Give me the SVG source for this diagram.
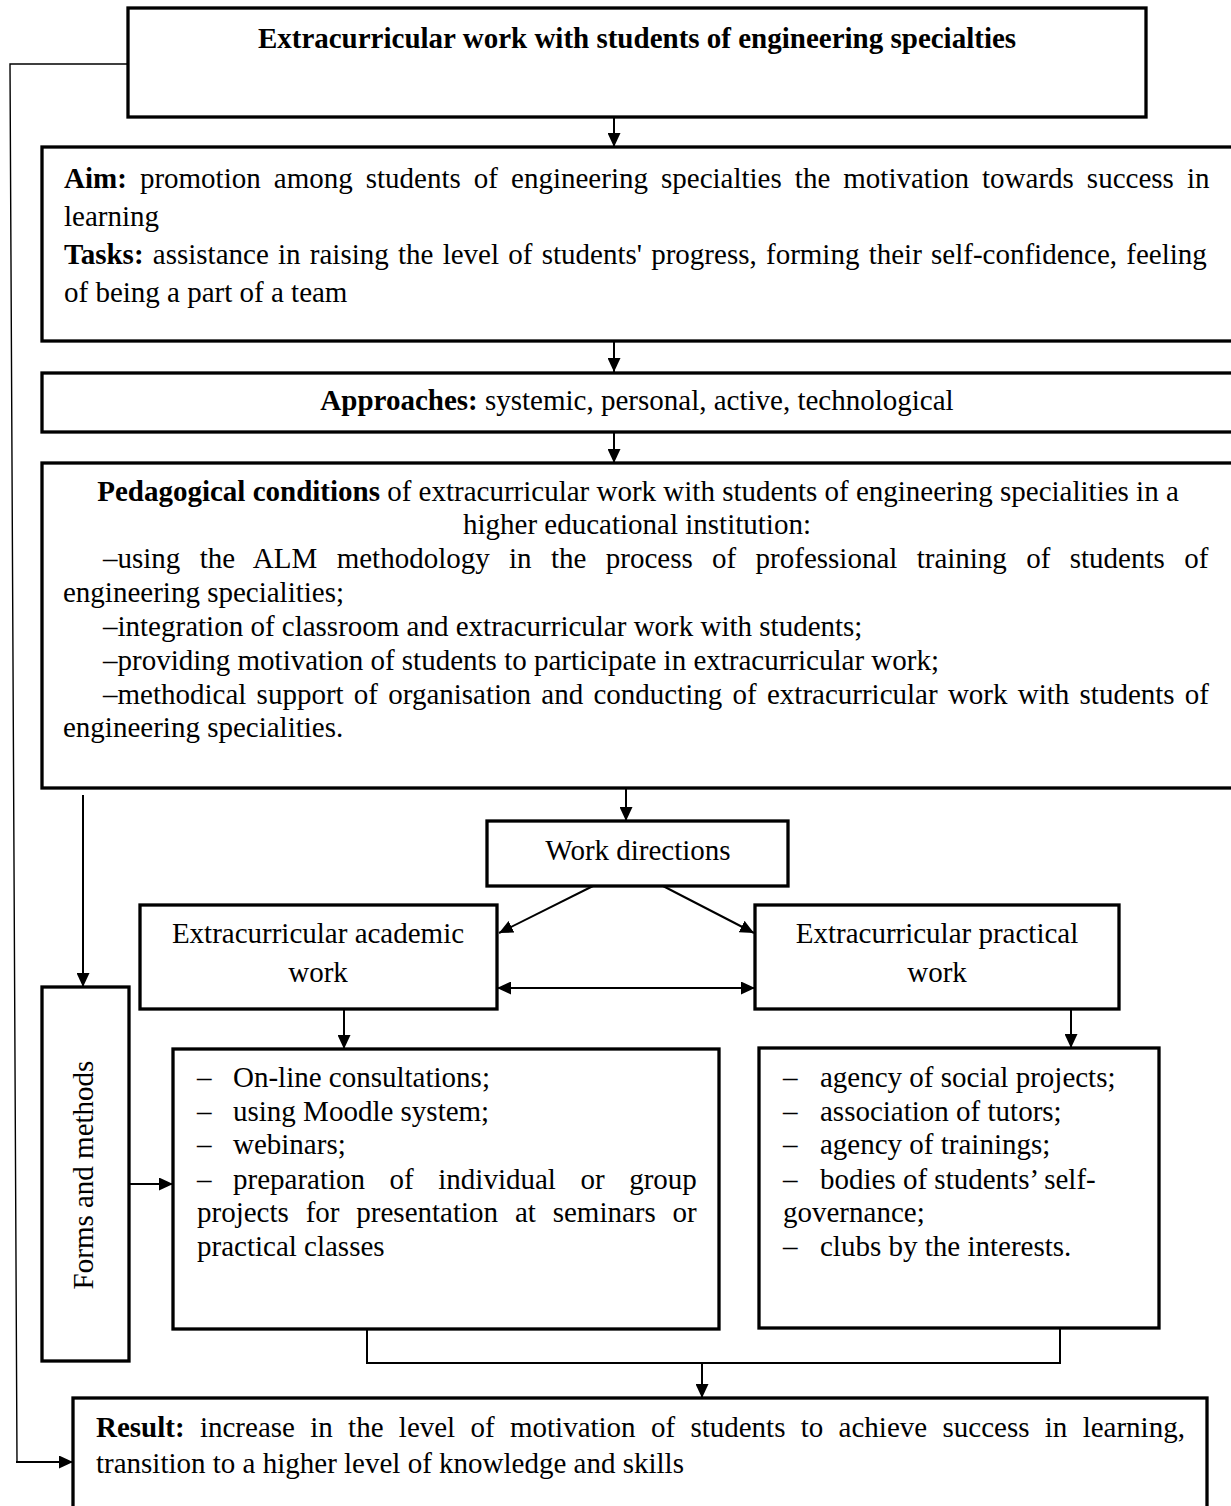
<svg xmlns="http://www.w3.org/2000/svg" width="1231" height="1506" viewBox="0 0 1231 1506">
<defs>
<marker id="ah" markerUnits="userSpaceOnUse" markerWidth="14" markerHeight="13" refX="14" refY="6.5" orient="auto-start-reverse">
<path d="M0,0 L14,6.5 L0,13 z" fill="#000"/>
</marker>
</defs>
<style>
text{font-family:"Liberation Serif","Times New Roman",serif;font-size:29px;fill:#000}
.b{font-weight:bold}
.c{text-anchor:middle}
.box{fill:#fff;stroke:#000;stroke-width:3.3}
.ln{fill:none;stroke:#000;stroke-width:2}
.arr{fill:none;stroke:#000;stroke-width:2;marker-end:url(#ah)}
</style>
<rect width="1231" height="1506" fill="#fff"/>

<g id="connectors">
<path d="M128,64 L10,64 L17,1462" fill="none" stroke="#000" stroke-width="1.4"/>
<line x1="16" y1="1462" x2="73" y2="1462" class="arr" stroke-width="2.5"/>
<line x1="614" y1="117" x2="614" y2="147" class="arr"/>
<line x1="614" y1="341" x2="614" y2="372" class="arr"/>
<line x1="614" y1="432" x2="614" y2="463" class="arr"/>
<line x1="626" y1="788" x2="626" y2="821" class="arr"/>
<line x1="83" y1="795" x2="83" y2="987" class="arr"/>
<line x1="593" y1="886" x2="499" y2="933" class="arr"/>
<line x1="663" y1="886" x2="754" y2="933" class="arr"/>
<line x1="497" y1="988" x2="755" y2="988" class="arr" style="marker-start:url(#ah)"/>
<line x1="344" y1="1009" x2="344" y2="1049" class="arr"/>
<line x1="1071" y1="1009" x2="1071" y2="1048" class="arr"/>
<line x1="129" y1="1184" x2="173" y2="1184" class="arr"/>
<path d="M367,1329 L367,1363 L1060,1363 L1060,1328" class="ln" stroke-width="2.5"/>
<line x1="702" y1="1363" x2="702" y2="1398" class="arr"/>
</g>

<g id="title">
<rect x="128" y="8" width="1018" height="109" class="box" stroke-width="3.6"/>
<text x="637" y="48" class="b c">Extracurricular work with students of engineering specialties</text>
</g>

<g id="aim">
<rect x="42" y="147" width="1200" height="194" class="box"/>
<text x="64" y="188" style="word-spacing:5.8px"><tspan class="b">Aim:</tspan> promotion among students of engineering specialties the motivation towards success in</text>
<text x="64" y="226">learning</text>
<text x="64" y="264" style="word-spacing:2px"><tspan class="b">Tasks:</tspan> assistance in raising the level of students' progress, forming their self-confidence, feeling</text>
<text x="64" y="302">of being a part of a team</text>
</g>

<g id="approaches">
<rect x="42" y="373" width="1200" height="59" class="box"/>
<text x="637" y="410" class="c"><tspan class="b">Approaches:</tspan> systemic, personal, active, technological</text>
</g>

<g id="conditions">
<rect x="42" y="463" width="1200" height="325" class="box"/>
<text x="638" y="501" class="c"><tspan class="b">Pedagogical conditions</tspan> of extracurricular work with students of engineering specialities in a</text>
<text x="637" y="534" class="c">higher educational institution:</text>
<text x="103" y="568" style="word-spacing:12.1px">–using the ALM methodology in the process of professional training of students of</text>
<text x="63" y="602">engineering specialities;</text>
<text x="103" y="636">–integration of classroom and extracurricular work with students;</text>
<text x="103" y="670">–providing motivation of students to participate in extracurricular work;</text>
<text x="103" y="704" style="word-spacing:3px">–methodical support of organisation and conducting of extracurricular work with students of</text>
<text x="63" y="737">engineering specialities.</text>
</g>

<g id="directions">
<rect x="487" y="821" width="301" height="65" class="box" stroke-width="3"/>
<text x="638" y="860" class="c">Work directions</text>
</g>

<g id="academic">
<rect x="140" y="905" width="357" height="104" class="box"/>
<text x="318" y="943" class="c">Extracurricular academic</text>
<text x="318" y="982" class="c">work</text>
</g>

<g id="practical">
<rect x="755" y="905" width="364" height="104" class="box"/>
<text x="937" y="943" class="c">Extracurricular practical</text>
<text x="937" y="982" class="c">work</text>
</g>

<g id="forms">
<rect x="42" y="987" width="87" height="374" class="box"/>
<text transform="translate(93,1175) rotate(-90)" class="c">Forms and methods</text>
</g>

<g id="academic-list">
<rect x="173" y="1049" width="546" height="280" class="box"/>
<text x="197" y="1087">–</text><text x="233" y="1087">On-line consultations;</text>
<text x="197" y="1121">–</text><text x="233" y="1121">using Moodle system;</text>
<text x="197" y="1154">–</text><text x="233" y="1154">webinars;</text>
<text x="197" y="1189">–</text><text x="233" y="1189" style="word-spacing:17.3px">preparation of individual or group</text>
<text x="197" y="1222" style="word-spacing:9.6px">projects for presentation at seminars or</text>
<text x="197" y="1256">practical classes</text>
</g>

<g id="practical-list">
<rect x="759" y="1048" width="400" height="280" class="box"/>
<text x="783" y="1087">–</text><text x="820" y="1087">agency of social projects;</text>
<text x="783" y="1121">–</text><text x="820" y="1121">association of tutors;</text>
<text x="783" y="1154">–</text><text x="820" y="1154">agency of trainings;</text>
<text x="783" y="1189">–</text><text x="820" y="1189">bodies of students’ self-</text>
<text x="783" y="1222">governance;</text>
<text x="783" y="1256">–</text><text x="820" y="1256">clubs by the interests.</text>
</g>

<g id="result">
<rect x="73" y="1398" width="1134" height="125" class="box"/>
<text x="96" y="1437" style="word-spacing:8.06px"><tspan class="b">Result:</tspan> increase in the level of motivation of students to achieve success in learning,</text>
<text x="96" y="1473">transition to a higher level of knowledge and skills</text>
</g>
</svg>
